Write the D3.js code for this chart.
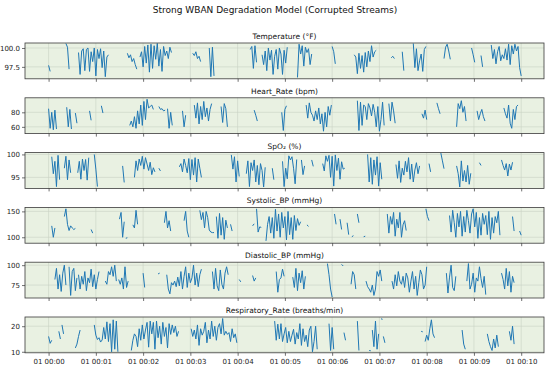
<!DOCTYPE html>
<html>
<head>
<meta charset="utf-8">
<script src="https://d3js.org/d3.v7.min.js"></script>
<style>
  body { margin: 0; background: #fff; }
  text { font-family: "DejaVu Sans", sans-serif; }
</style>
</head>
<body>
<script>
// Stream data: each series is a list of [startSecond, [values...]] runs sampled every 2 s.
// Gaps between runs are the corrupted / dropped parts of the stream.
const step = 2;

const panelTitles = [
  'Temperature (°F)', 'Heart_Rate (bpm)', 'SpO\u2082 (%)',
  'Systolic_BP (mmHg)', 'Diastolic_BP (mmHg)', 'Respiratory_Rate (breaths/min)'
];

const yDomains = [[95.92, 100.66], [50.7, 100], [92.6, 100.4], [88.5, 157.7], [58.75, 103.75], [9.6, 23.6]];
const yTicks = [[97.5, 100.0], [60, 80], [95, 100], [100, 150], [75, 100], [10, 20]];
const yTickFmt = ['.1f', 'd', 'd', 'd', 'd', 'd'];

const temperature = [
  [0, [97.7, 96.9]],
  [22, [100.6, 100.1, 97.2]],
  [38, [99.4, 96.5, 99.6, 99.9, 97.0, 99.8, 100.0, 96.9, 99.5, 98.2, 100.0, 96.3, 99.8, 98.6, 99.9, 97.4, 99.6, 96.2, 98.8, 99.1]],
  [100, [99.3, 98.7, 99.1, 98.2, 98.6, 97.8, 97.2]],
  [116, [98.8, 99.5, 97.5, 100.2, 98.0, 100.4, 96.8, 100.5, 97.3, 100.3, 98.5, 100.6, 97.6, 99.8, 96.9, 100.2, 99.0, 99.6, 98.6, 100.1, 99.4]],
  [183, [99.3, 99.0, 99.5, 98.6, 98.9, 98.2]],
  [204, [100.0, 96.2, 100.1, 96.3]],
  [256, [99.8, 100.2, 97.3, 100.3, 98.1]],
  [271, [99.1, 97.8, 99.6, 97.0, 100.0, 98.4, 99.7, 96.5, 98.9, 99.8, 97.2, 100.0, 99.2, 96.5, 99.7, 98.0, 100.1]],
  [316, [96.1, 100.5, 99.2, 100.3, 97.6, 100.1, 99.4, 99.9, 97.8, 99.2]],
  [360, [100.2, 99.5, 97.9]],
  [388, [99.1, 98.8, 96.6, 99.3, 97.3, 99.0, 96.8, 99.4, 97.5, 99.6, 98.2, 100.3, 98.8, 99.5, 99.7]],
  [435, [98.7, 98.9, 98.6]],
  [449, [99.5, 97.0]],
  [463, [100.6, 97.4, 99.9, 97.0, 98.3, 99.2, 96.9, 99.8, 100.2]],
  [502, [98.6, 100.1, 100.5, 99.6, 98.5]],
  [537, [100.0, 99.1, 98.1]],
  [549, [99.0, 97.5]],
  [562, [100.4, 98.6, 99.8, 97.9, 99.5, 100.2, 98.3, 99.1, 98.6, 99.9, 98.4, 100.5, 97.8, 100.3, 99.2, 100.5, 99.6, 100.2, 97.4, 96.3]]
];

const heartRate = [
  [0, [85, 58, 80, 56, 83, 57]],
  [23, [87, 60, 84, 57]],
  [34, [79, 65]],
  [52, [82, 69]],
  [67, [89, 79]],
  [103, [62, 68, 60, 74, 58, 82, 64, 90, 62, 95, 70, 98, 86, 88, 90, 84]],
  [140, [88, 84, 85, 82, 83]],
  [151, [85, 58, 80, 62]],
  [170, [82, 60, 76]],
  [185, [90, 72, 93, 64, 88, 70, 95, 74, 86, 68, 84, 92]],
  [219, [88, 66, 92, 85, 60]],
  [261, [83, 76, 68]],
  [296, [80, 55, 84, 89]],
  [327, [90, 72, 93, 80, 76, 68, 82, 70, 86, 64, 78, 54, 80, 60, 88, 76, 90]],
  [392, [96, 55, 94, 62, 90, 88, 70, 92, 86, 75, 91, 80, 60, 88, 54, 70, 94, 62]],
  [432, [92, 68, 94, 82, 65]],
  [474, [78, 72, 83, 70]],
  [493, [93, 85, 78]],
  [518, [60, 92, 85, 96, 80, 88, 68]],
  [544, [82, 70, 78, 84, 74, 68]],
  [578, [86, 78, 72, 90, 65, 58, 84, 70, 88, 90]]
];

const spo2 = [
  [4, [99.5, 95.8, 98.5, 93.0, 99.8, 94.5]],
  [20, [97.0, 99.6, 94.5, 98.8, 96.0]],
  [37, [96.0, 98.5, 94.6, 99.0, 96.5, 98.9, 94.4, 99.3]],
  [58, [100.0, 96.8, 93.0]],
  [94, [97.5, 93.9]],
  [109, [95.0, 98.6, 96.5, 99.0, 97.6, 99.6, 96.8, 99.3, 97.9, 96.5, 98.3, 95.6, 97.1, 96.2]],
  [140, [97.0, 96.4]],
  [166, [97.3, 98.0, 96.2, 99.0, 97.6, 96.0, 99.1, 94.5, 98.9, 95.5, 99.3, 94.0, 99.0, 97.0, 95.0]],
  [232, [99.9, 96.8, 99.5, 94.0, 98.6, 95.2]],
  [251, [95.8, 98.6, 93.0, 98.2, 96.5, 98.8, 94.0, 97.6, 93.4, 98.0, 96.5, 92.9, 97.2]],
  [284, [97.0, 94.5]],
  [297, [98.5, 93.0, 97.0, 94.7, 99.7, 98.8, 99.5, 97.0, 93.6, 98.9]],
  [321, [98.8, 95.6, 97.5]],
  [334, [98.8, 97.4]],
  [348, [98.0, 96.4, 99.7, 98.5, 99.8, 95.0, 99.6, 93.1, 99.9, 96.5, 99.2, 94.6, 98.4, 96.8, 97.0]],
  [405, [100.0, 94.0, 99.3, 93.5, 98.8, 95.5, 99.5, 93.1, 98.2, 94.6]],
  [441, [97.8, 94.8, 98.6, 93.9, 97.0, 95.5, 98.5, 96.2, 99.3, 94.6, 97.9, 94.0, 96.6, 98.2, 95.8, 97.5]],
  [483, [98.0, 96.2]],
  [498, [100.3, 98.6, 96.9]],
  [518, [97.5, 95.8, 92.9, 98.6, 94.2, 96.5, 94.0, 97.6, 93.5, 95.9]],
  [547, [98.2, 97.6]],
  [575, [98.8, 97.6, 96.6, 98.0, 95.3, 97.9, 96.6, 98.3]]
];

const systolic = [
  [4, [122, 100, 118]],
  [20, [140, 155, 125, 113, 122, 118, 115, 117]],
  [54, [115, 108]],
  [90, [135, 148, 100, 130]],
  [98, [98, 99]],
  [107, [124, 118, 152, 125]],
  [147, [128, 150, 118, 132, 112]],
  [172, [132, 150, 112, 100]],
  [192, [152, 134, 148, 118, 150, 138, 114, 110, 109, 109]],
  [213, [140, 98, 146, 104, 138, 96, 133, 118]],
  [231, [125, 112]],
  [259, [122, 126]],
  [264, [155, 110, 120, 119]],
  [276, [93, 125, 140, 108, 138, 98, 154, 112, 145, 100, 148, 118, 140, 95, 150, 105, 138, 96, 142, 113, 136, 123, 130]],
  [328, [124, 121]],
  [363, [145, 125]],
  [370, [135, 115]],
  [379, [128, 105]],
  [385, [101, 103]],
  [392, [145, 128]],
  [400, [101, 102]],
  [430, [145, 108, 140, 125, 148, 102, 135, 118, 148, 100, 124, 132, 113]],
  [479, [155, 140, 132]],
  [509, [142, 110, 152, 128, 100, 146, 120, 150, 102, 140, 110, 152, 132, 108, 145, 155, 120, 148, 98, 138, 104, 146, 125, 142, 105, 150, 96, 138, 108, 140, 128, 150, 104]],
  [589, [140, 112]],
  [598, [112, 104]]
];

const diastolic = [
  [8, [82, 96, 70, 88, 67, 90, 100, 75]],
  [26, [98, 62, 92, 96, 68, 84]],
  [38, [88, 70, 86, 76, 92, 68, 84, 78, 95, 73, 88, 70, 82, 92]],
  [72, [80, 76, 92, 88, 98, 86, 100, 80]],
  [89, [82, 76, 84, 70, 98, 72, 80]],
  [120, [90, 72]],
  [139, [89, 90]],
  [150, [88, 70, 64, 78, 75, 80, 73, 85, 74, 92, 70, 86, 98, 72, 90, 78, 84, 100, 75, 90, 73, 88, 95]],
  [208, [92, 70, 96, 74, 68, 94, 76, 70, 90, 98, 88]],
  [242, [82, 79]],
  [259, [87, 80, 84]],
  [289, [92, 66, 82, 84, 95, 86]],
  [310, [85, 72, 96, 68, 90, 78, 93, 70, 86]],
  [354, [102, 88, 70, 60]],
  [372, [101, 99]],
  [384, [76, 92, 88, 70]],
  [403, [80, 73, 70, 66, 75, 62, 70, 92, 86, 94, 80]],
  [436, [80, 70, 88, 74, 92, 80, 76, 86, 72, 90, 84, 66, 80, 92, 70, 86, 62, 78, 94, 88, 70, 75, 98]],
  [505, [90, 65, 85, 100, 72, 68, 86]],
  [531, [80, 102, 70, 76, 90, 66, 84, 80, 98, 83, 72, 86, 63]],
  [575, [90, 82, 70, 96, 74, 92, 66, 86, 78]]
];

const respiratory = [
  [0, [16.0, 13.3, 14.5]],
  [13, [18.0, 15.0]],
  [17, [20.5, 17.0]],
  [34, [11.5, 13.0, 16.0, 18.5]],
  [58, [20.5, 16.5, 14.8, 15.5, 13.8, 14.6, 19.5, 15.0, 21.7, 14.0, 21.0, 10.0, 22.5, 11.0, 22.0, 10.0]],
  [105, [10.5, 14.5, 17.0, 16.0, 12.0, 19.0, 14.5, 20.5, 15.0, 18.5, 21.5, 11.8, 22.0, 17.0, 21.5, 11.0, 22.0, 15.5, 20.0, 13.0, 21.5, 16.0, 19.5, 11.5, 21.0, 16.8, 20.5, 17.5, 20.0, 16.0, 18.0]],
  [181, [19.0, 16.0, 18.5, 15.0, 20.5, 12.5, 19.0, 16.5, 18.0, 21.5, 13.5, 18.5, 15.0, 22.0, 16.0, 20.0, 14.5, 19.5, 21.0, 17.0, 23.0, 16.5, 18.0, 16.8, 17.5, 14.0, 19.0, 15.5, 17.0, 13.5]],
  [287, [22.0, 14.5, 20.8, 15.0, 21.0, 14.0, 17.0, 19.5, 13.5, 18.0, 14.0, 16.5, 18.8, 13.0, 17.5, 15.0, 21.0, 12.5, 19.0, 14.0, 16.5, 12.0, 18.5, 20.0, 10.0, 14.0, 20.0, 11.0]],
  [356, [21.0, 10.5, 19.5, 11.0]],
  [375, [17.5, 14.5]],
  [392, [22.0, 10.5]],
  [407, [10.5, 10.4]],
  [411, [18.5, 12.0, 22.0, 11.0, 17.0]],
  [422, [22.9, 22.7]],
  [425, [16.0, 13.5]],
  [473, [18.0, 17.8]],
  [478, [14.0, 16.5, 14.5, 19.0, 22.5, 17.0, 15.5]],
  [525, [18.5, 13.0, 11.0]],
  [557, [17.0, 14.0, 12.0, 10.5, 15.0, 11.5, 16.5, 12.0]],
  [585, [18.0, 14.5, 20.0, 13.0]]
];

const seriesList = [temperature, heartRate, spo2, systolic, diastolic, respiratory];

// Chart geometry
const width = 550;
const height = 367;
const left = 25;
const right = 544;
const panelTop = 43;
const panelGap = 54.8;
const panelH = 35.8;

const t0 = new Date(2024, 0, 1, 0, 0, 0);
const toDate = s => new Date(t0.getTime() + s * 1000);

const svg = d3.select('body').append('svg')
  .attr('width', width)
  .attr('height', height);

const x = d3.scaleTime()
  .domain([toDate(-29.95), toDate(628.95)])
  .range([left, right]);

const minuteTicks = d3.range(0, 11).map(m => toDate(m * 60));

svg.append('text')
  .attr('x', width / 2)
  .attr('y', 13)
  .attr('text-anchor', 'middle')
  .style('font-size', '9px')
  .style('fill', '#111')
  .text('Strong WBAN Degradation Model (Corrupted Streams)');

seriesList.forEach((series, i) => {
  const top = panelTop + i * panelGap;
  const y = d3.scaleLinear().domain(yDomains[i]).range([top + panelH, top]);
  const g = svg.append('g');

  // axes background
  g.append('rect')
    .attr('x', left).attr('y', top)
    .attr('width', right - left).attr('height', panelH)
    .attr('fill', '#e9f1e2');

  // grid
  g.selectAll('.vgrid').data(minuteTicks).enter().append('line')
    .attr('x1', d => x(d)).attr('x2', d => x(d))
    .attr('y1', top).attr('y2', top + panelH)
    .attr('stroke', '#c9d2c4').attr('stroke-width', 0.6);
  g.selectAll('.hgrid').data(yTicks[i]).enter().append('line')
    .attr('x1', left).attr('x2', right)
    .attr('y1', d => y(d)).attr('y2', d => y(d))
    .attr('stroke', '#c9d2c4').attr('stroke-width', 0.6);

  // lines, one path per uninterrupted run
  const line = d3.line().x(d => x(d.t)).y(d => y(d.v));
  series.forEach(([start, vals]) => {
    const pts = vals.map((v, k) => ({ t: toDate(start + k * step), v: v }));
    g.append('path')
      .attr('d', line(pts))
      .attr('fill', 'none')
      .attr('stroke', '#1f77b4')
      .attr('stroke-width', 1)
      .attr('stroke-linejoin', 'round');
  });

  // frame
  g.append('rect')
    .attr('x', left).attr('y', top)
    .attr('width', right - left).attr('height', panelH)
    .attr('fill', 'none')
    .attr('stroke', '#3a3a3a').attr('stroke-width', 0.8);

  // y axis
  const yAxis = d3.axisLeft(y).tickValues(yTicks[i]).tickSize(3).tickPadding(2)
    .tickFormat(d3.format(yTickFmt[i]));
  g.append('g')
    .attr('transform', `translate(${left},0)`)
    .call(yAxis)
    .call(a => a.select('.domain').remove())
    .call(a => a.selectAll('line').attr('stroke', '#333').attr('stroke-width', 0.7))
    .call(a => a.selectAll('text').style('font-size', '7px').style('font-family', 'DejaVu Sans').attr('fill', '#222'));

  // x ticks on every panel, labels only on the last one
  const xAxis = d3.axisBottom(x).tickValues(minuteTicks).tickSize(3).tickPadding(3)
    .tickFormat(i === seriesList.length - 1 ? d3.timeFormat('%d %H:%M') : '');
  g.append('g')
    .attr('transform', `translate(0,${top + panelH})`)
    .call(xAxis)
    .call(a => a.select('.domain').remove())
    .call(a => a.selectAll('line').attr('stroke', '#333').attr('stroke-width', 0.7))
    .call(a => a.selectAll('text').style('font-size', '7px').style('font-family', 'DejaVu Sans').attr('fill', '#222'));

  // panel title
  svg.append('text')
    .attr('x', (left + right) / 2)
    .attr('y', top - 4)
    .attr('text-anchor', 'middle')
    .style('font-size', '7.5px')
    .style('fill', '#111')
    .text(panelTitles[i]);
});
</script>
</body>
</html>
